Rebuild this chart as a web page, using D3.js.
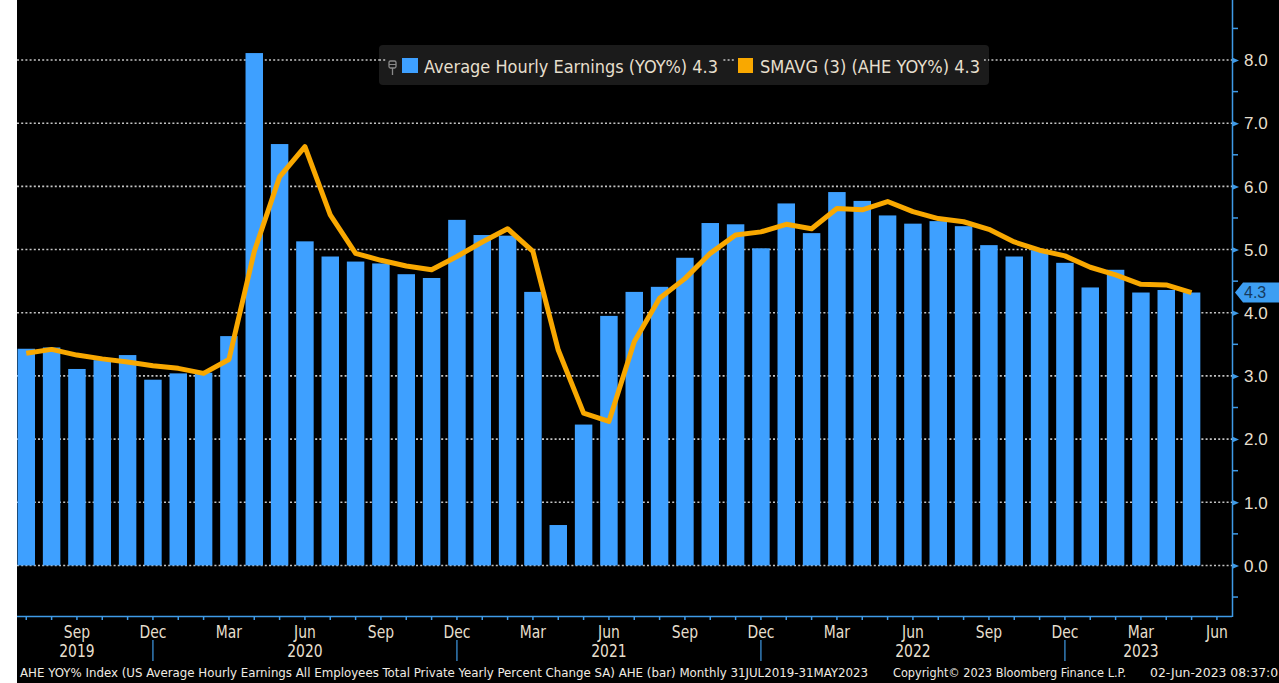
<!DOCTYPE html>
<html><head><meta charset="utf-8">
<script src="https://cdn.jsdelivr.net/npm/d3@7"></script>
<style>
html,body{margin:0;padding:0;background:#000;overflow:hidden;}
svg{display:block;}
text{font-family:'Liberation Sans Narrow','DejaVu Sans Condensed','Roboto Condensed',sans-serif;}
</style></head>
<body><svg id="c" width="1279" height="683"></svg>
<script>
const months = ["2019-07","2019-08","2019-09","2019-10","2019-11","2019-12",
"2020-01","2020-02","2020-03","2020-04","2020-05","2020-06","2020-07","2020-08","2020-09","2020-10","2020-11","2020-12",
"2021-01","2021-02","2021-03","2021-04","2021-05","2021-06","2021-07","2021-08","2021-09","2021-10","2021-11","2021-12",
"2022-01","2022-02","2022-03","2022-04","2022-05","2022-06","2022-07","2022-08","2022-09","2022-10","2022-11","2022-12",
"2023-01","2023-02","2023-03","2023-04","2023-05"];
const axisExtraMonths = ["2023-06"];
const aheYoy = [3.43,3.45,3.11,3.25,3.33,2.94,
3.04,3.05,3.63,8.11,6.67,5.13,4.89,4.81,4.78,4.61,4.55,5.47,
5.23,5.22,4.33,0.64,2.23,3.95,4.33,4.41,4.87,5.42,5.40,5.02,
5.73,5.26,5.91,5.77,5.54,5.41,5.45,5.37,5.07,4.89,4.99,4.79,
4.40,4.68,4.32,4.36,4.32];
const smavg3 = [3.36,3.42,3.33,3.27,3.22,3.16,
3.12,3.04,3.26,4.97,6.15,6.63,5.55,4.94,4.83,4.74,4.68,4.89,
5.12,5.33,4.97,3.41,2.41,2.28,3.54,4.23,4.54,4.94,5.23,5.28,
5.40,5.33,5.65,5.63,5.76,5.60,5.49,5.44,5.32,5.12,4.99,4.90,
4.72,4.60,4.45,4.44,4.32];
const monthTickMonths = ["2019-09","2019-12","2020-03","2020-06","2020-09","2020-12","2021-03","2021-06","2021-09","2021-12","2022-03","2022-06","2022-09","2022-12","2023-03","2023-06"];
const monthTickLabels = ["Sep","Dec","Mar","Jun","Sep","Dec","Mar","Jun","Sep","Dec","Mar","Jun","Sep","Dec","Mar","Jun"];
const yearLabelMonths = ["2019-09","2020-06","2021-06","2022-06","2023-03"];
const yearLabels = ["2019","2020","2021","2022","2023"];
const yearSeparatorMonths = ["2019-12","2020-12","2021-12","2022-12"];
const yTicks = [0,1,2,3,4,5,6,7,8];
const yMinorTicks = [-0.5,0.5,1.5,2.5,3.5,4.5,5.5,6.5,7.5,8.5];
const legendLabels = ["Average Hourly Earnings (YOY%) 4.3","SMAVG (3) (AHE YOY%) 4.3"];
const lastValueLabel = "4.3";
const footerTexts = ["AHE YOY% Index (US Average Hourly Earnings All Employees Total Private Yearly Percent Change SA) AHE (bar)  Monthly 31JUL2019-31MAY2023",
 "Copyright\u00A9 2023 Bloomberg Finance L.P.", "02-Jun-2023 08:37:01"];

const BLUE = "#3ea0ff", AXIS = "#3f9ae6", ORANGE = "#f9a800", TXT = "#e6dfcd";
const svg = d3.select("#c");
const W = 1279, H = 683;
const plotL = 17, plotR = 1232, plotT = 0, plotB = 616;

svg.append("rect").attr("width", W).attr("height", H).attr("fill", "#000");
svg.append("rect").attr("width", plotL).attr("height", H).attr("fill", "#fff");

const x = d3.scaleBand().domain(months.concat(axisExtraMonths))
  .range([13.6, 13.6 + 48 * 25.333]).paddingInner(0.31).paddingOuter(0.155);
const xc = m => x(m) + x.bandwidth() / 2;
const y = d3.scaleLinear().domain([-0.8, 8.95]).range([plotB, plotT]);

// gridlines
const grid = svg.append("g");
grid.selectAll("line").data(yTicks).join("line")
  .attr("x1", plotL).attr("x2", plotR).attr("y1", d => y(d)).attr("y2", d => y(d))
  .attr("stroke", "#c4c4c4").attr("stroke-width", 1.6).attr("stroke-dasharray", "2,2.2");

// bars
svg.append("g").selectAll("rect").data(aheYoy).join("rect")
  .attr("x", (d, i) => x(months[i])).attr("width", x.bandwidth())
  .attr("y", d => y(Math.max(0, d))).attr("height", d => Math.abs(y(d) - y(0)))
  .attr("fill", BLUE);

// line
const line = d3.line().x((d, i) => xc(months[i])).y(d => y(d)).curve(d3.curveLinear);
svg.append("path").datum(smavg3).attr("d", line).attr("fill", "none")
  .attr("stroke", ORANGE).attr("stroke-width", 5).attr("stroke-linejoin", "round");

// axes lines
svg.append("line").attr("x1", plotL).attr("x2", plotR).attr("y1", plotB + 0.5).attr("y2", plotB + 0.5)
  .attr("stroke", AXIS).attr("stroke-width", 1.5);
svg.append("line").attr("x1", plotR + 0.5).attr("x2", plotR + 0.5).attr("y1", 0).attr("y2", plotB + 1)
  .attr("stroke", AXIS).attr("stroke-width", 1.5);

// right axis
const yAxis = d3.axisRight(y).tickValues(yTicks).tickSize(0).tickPadding(12).tickFormat(d3.format(".1f"));
const ya = svg.append("g").attr("transform", `translate(${plotR},0)`).call(yAxis);
ya.select(".domain").remove();
ya.selectAll("text").attr("fill", TXT).attr("font-size", 17)
  .style("font-family", "'Liberation Sans','DejaVu Sans',sans-serif").attr("dy", "0.34em");
ya.selectAll(".tick").append("path").attr("d", "M0,-3L7,0L0,3Z").attr("fill", AXIS);
svg.append("g").selectAll("line").data(yMinorTicks).join("line")
  .attr("x1", plotR).attr("x2", plotR + 6).attr("y1", d => y(d)).attr("y2", d => y(d))
  .attr("stroke", AXIS).attr("stroke-width", 1.5);

// bottom axis
const tickMap = new Map(monthTickMonths.map((m, i) => [m, monthTickLabels[i]]));
const xAxis = d3.axisBottom(x).tickSize(4).tickPadding(4).tickFormat(m => tickMap.get(m) || "");
const xa = svg.append("g").attr("transform", `translate(0,${plotB})`).call(xAxis);
xa.select(".domain").remove();
xa.selectAll("line").attr("stroke", AXIS).attr("stroke-width", 1.5);
xa.selectAll("text").attr("fill", TXT).attr("font-size", 18).attr("y", 9)
  .attr("transform", "scale(0.86,1)");

svg.append("g").selectAll("text").data(yearLabels).join("text")
  .attr("transform", (d, i) => `translate(${xc(yearLabelMonths[i])},657) scale(0.86,1)`)
  .attr("text-anchor", "middle")
  .attr("fill", TXT).attr("font-size", 18).text(d => d);
svg.append("g").selectAll("line").data(yearSeparatorMonths).join("line")
  .attr("x1", d => xc(d)).attr("x2", d => xc(d)).attr("y1", 640).attr("y2", 661)
  .attr("stroke", AXIS).attr("stroke-width", 1.2);

// last value marker
const yl = y(aheYoy[aheYoy.length - 1]);
svg.append("path").attr("d", `M${plotR + 3},${yl}L${plotR + 11},${yl - 10}L${W},${yl - 10}L${W},${yl + 10}L${plotR + 11},${yl + 10}Z`)
  .attr("fill", "#3d9ef2");
svg.append("text").attr("x", plotR + 12).attr("y", yl).attr("dy", "0.36em").attr("fill", "#163a5e")
  .attr("font-size", 16).style("font-family", "'Liberation Sans','DejaVu Sans',sans-serif").text(lastValueLabel);

// legend
const lg = svg.append("g");
lg.append("rect").attr("x", 379).attr("y", 45).attr("width", 610).attr("height", 40).attr("rx", 4).attr("fill", "#1b1b1b");
lg.append("line").attr("x1", 379).attr("x2", 989).attr("y1", y(8)).attr("y2", y(8))
  .attr("stroke", "#c4c4c4").attr("stroke-width", 1.6).attr("stroke-dasharray", "2,2.2");
lg.append("rect").attr("x", 386).attr("y", 52).attr("width", 336).attr("height", 28).attr("fill", "#1b1b1b");
lg.append("rect").attr("x", 735).attr("y", 52).attr("width", 249).attr("height", 28).attr("fill", "#1b1b1b");
// pin icon
lg.append("rect").attr("x", 389).attr("y", 61).attr("width", 7).attr("height", 7).attr("rx", 1.5)
  .attr("fill", "none").attr("stroke", "#8a8a8a").attr("stroke-width", 1.3);
lg.append("line").attr("x1", 389).attr("x2", 396).attr("y1", 64.5).attr("y2", 64.5).attr("stroke", "#8a8a8a").attr("stroke-width", 1);
lg.append("line").attr("x1", 392.5).attr("x2", 392.5).attr("y1", 68).attr("y2", 75).attr("stroke", "#8a8a8a").attr("stroke-width", 1.3);
lg.append("rect").attr("x", 402).attr("y", 58).attr("width", 16).attr("height", 15).attr("fill", BLUE);
lg.append("rect").attr("x", 738).attr("y", 58).attr("width", 15).attr("height", 15).attr("fill", ORANGE);
lg.append("text").attr("x", 424).attr("y", 67).attr("dy", "0.35em").attr("fill", TXT).attr("font-size", 18)
  .attr("textLength", 294).attr("lengthAdjust", "spacingAndGlyphs").text(legendLabels[0]);
lg.append("text").attr("x", 760).attr("y", 67).attr("dy", "0.35em").attr("fill", TXT).attr("font-size", 18)
  .attr("textLength", 220).attr("lengthAdjust", "spacingAndGlyphs").text(legendLabels[1]);

// footer
const ft = svg.append("g").attr("fill", "#f0ece4").attr("font-size", 13);
ft.append("text").attr("x", 20).attr("y", 677).attr("textLength", 848).attr("lengthAdjust", "spacingAndGlyphs").text(footerTexts[0]);
ft.append("text").attr("x", 893).attr("y", 677).attr("textLength", 233).attr("lengthAdjust", "spacingAndGlyphs").text(footerTexts[1]);
ft.append("text").attr("x", 1150).attr("y", 677).attr("textLength", 136).attr("lengthAdjust", "spacingAndGlyphs").text(footerTexts[2]);
</script></body></html>
